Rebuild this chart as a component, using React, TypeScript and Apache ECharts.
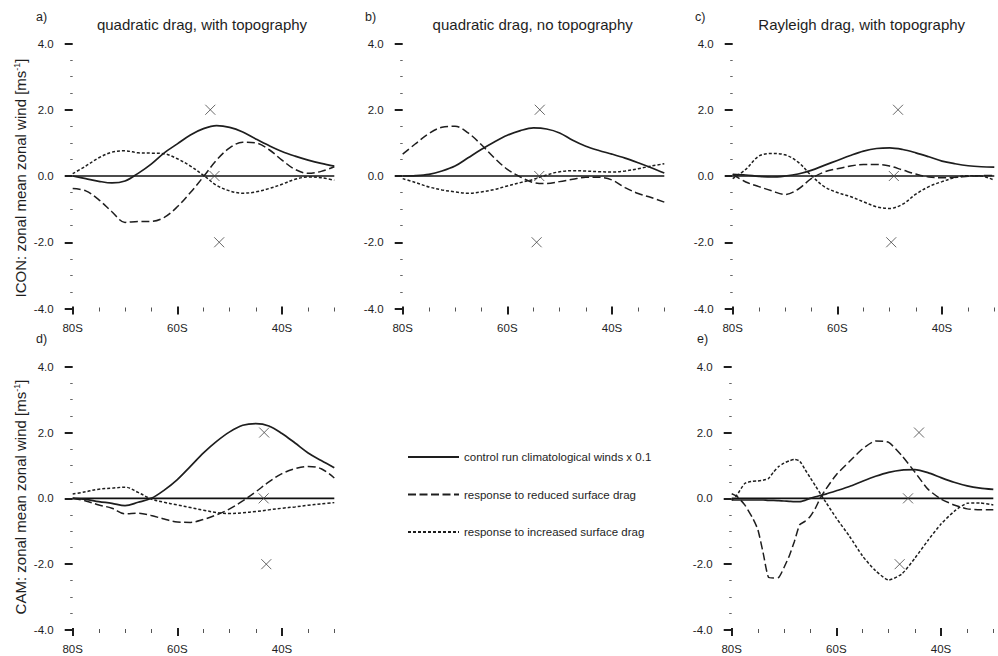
import React, { useEffect, useRef } from 'react';
import * as echarts from 'echarts';

// ---------------- data ----------------
const X_MIN = -80;
const X_MAX = -30;
const Y_MIN = -4;
const Y_MAX = 4;

const LAT = [-80, -77.5, -75, -72.5, -70, -67.5, -65, -62.5, -60, -57.5, -55, -52.5, -50, -47.5, -45, -42.5, -40, -37.5, -35, -32.5, -30];
const LAT_E = [-80, -79, -77.5, -76, -75, -74, -73, -72, -71, -70, -69, -68, -67, -66, -65, -64, -63, -62, -60, -57.5, -55, -52.5, -50, -47.5, -45, -42.5, -40, -37.5, -35, -32.5, -30];

// a) ICON quadratic drag, with topography
const A_CONTROL = [0, -0.08, -0.16, -0.21, -0.15, 0.08, 0.36, 0.7, 0.97, 1.24, 1.43, 1.52, 1.47, 1.33, 1.12, 0.92, 0.74, 0.6, 0.48, 0.38, 0.3];
const A_REDUCED = [-0.38, -0.45, -0.72, -1.08, -1.4, -1.37, -1.37, -1.25, -0.93, -0.5, -0.02, 0.48, 0.85, 1.02, 1.0, 0.8, 0.48, 0.2, 0.08, 0.14, 0.28];
const A_INCREASED = [0.07, 0.3, 0.55, 0.72, 0.76, 0.7, 0.69, 0.67, 0.52, 0.3, 0.02, -0.28, -0.45, -0.52, -0.48, -0.38, -0.25, -0.1, -0.03, -0.05, -0.13];

// b) ICON quadratic drag, no topography
const B_CONTROL = [0, 0.01, 0.05, 0.15, 0.3, 0.55, 0.8, 1.03, 1.23, 1.37, 1.45, 1.42, 1.3, 1.08, 0.9, 0.77, 0.66, 0.54, 0.4, 0.25, 0.09];
const B_REDUCED = [0.66, 0.98, 1.28, 1.47, 1.5, 1.3, 0.95, 0.55, 0.2, -0.03, -0.2, -0.23, -0.17, -0.1, -0.04, -0.04, -0.12, -0.35, -0.53, -0.65, -0.79];
const B_INCREASED = [-0.08, -0.2, -0.33, -0.42, -0.48, -0.52, -0.48, -0.41, -0.3, -0.2, -0.1, 0.03, 0.13, 0.16, 0.15, 0.13, 0.12, 0.15, 0.22, 0.3, 0.37];

// c) ICON Rayleigh drag, with topography
const C_CONTROL = [0.05, 0.03, -0.01, -0.03, 0, 0.06, 0.17, 0.32, 0.47, 0.62, 0.75, 0.83, 0.85, 0.8, 0.7, 0.58, 0.45, 0.37, 0.31, 0.28, 0.27];
const C_REDUCED = [0.05, -0.18, -0.32, -0.45, -0.56, -0.4, -0.08, 0.12, 0.22, 0.3, 0.35, 0.35, 0.3, 0.18, 0.06, -0.03, -0.05, -0.04, -0.01, 0.01, 0.02];
const C_INCREASED = [-0.08, 0.2, 0.6, 0.68, 0.64, 0.42, 0.02, -0.32, -0.5, -0.62, -0.78, -0.93, -0.98, -0.85, -0.55, -0.32, -0.17, -0.05, 0.01, 0, -0.13];

// d) CAM quadratic drag, with topography
const D_CONTROL = [0, -0.03, -0.1, -0.15, -0.22, -0.12, 0, 0.25, 0.57, 0.97, 1.38, 1.73, 2.02, 2.22, 2.27, 2.2, 1.97, 1.68, 1.38, 1.15, 0.93];
const D_REDUCED = [0, -0.08, -0.2, -0.3, -0.47, -0.45, -0.52, -0.63, -0.72, -0.73, -0.64, -0.5, -0.32, -0.08, 0.2, 0.5, 0.75, 0.9, 0.97, 0.9, 0.62];
const D_INCREASED = [0.13, 0.2, 0.28, 0.31, 0.34, 0.18, -0.02, -0.12, -0.2, -0.28, -0.36, -0.43, -0.46, -0.44, -0.4, -0.35, -0.3, -0.26, -0.21, -0.17, -0.13];

// e) CAM Rayleigh drag, with topography (on LAT_E)
const E_CONTROL = [-0.05, -0.05, -0.05, -0.05, -0.05, -0.05, -0.06, -0.06, -0.07, -0.08, -0.09, -0.1, -0.1, -0.06, 0, 0.05, 0.09, 0.13, 0.23, 0.36, 0.52, 0.67, 0.79, 0.86, 0.87, 0.78, 0.63, 0.49, 0.38, 0.31, 0.27];
const E_REDUCED = [0.14, 0.06, -0.2, -0.6, -0.95, -1.65, -2.39, -2.42, -2.4, -2.1, -1.75, -1.3, -0.8, -0.7, -0.55, -0.3, 0.03, 0.28, 0.72, 1.12, 1.5, 1.74, 1.7, 1.3, 0.8, 0.28, -0.02, -0.2, -0.32, -0.35, -0.35];
const E_INCREASED = [-0.06, 0.1, 0.45, 0.52, 0.53, 0.55, 0.6, 0.8, 0.97, 1.07, 1.14, 1.18, 1.13, 0.88, 0.63, 0.38, 0.13, -0.12, -0.6, -1.15, -1.75, -2.2, -2.48, -2.3, -1.82, -1.28, -0.78, -0.4, -0.15, -0.14, -0.2];

// cross markers (latitude of each cross at values MARK_VALUES)
const MARK_VALUES = [2, 0, -2];
const A_MARK_LAT = [-53.7, -52.9, -52.0];
const B_MARK_LAT = [-53.8, -53.9, -54.4];
const C_MARK_LAT = [-48.4, -49.2, -49.7];
const D_MARK_LAT = [-43.4, -43.5, -43.0];
const E_MARK_LAT = [-44.2, -46.3, -47.9];

const X_LABEL_TICKS = [-80, -60, -40];
const X_MINOR_TICKS = [-75, -70, -65, -55, -50, -45, -35, -30];

const SERIES_NAMES = [
  'control run climatological winds x 0.1',
  'response to reduced surface drag',
  'response to increased surface drag',
];
const PANEL_LETTERS = ['a)', 'b)', 'c)', 'd)', 'e)'];
const PANEL_TITLES = ['quadratic drag, with topography', 'quadratic drag, no topography', 'Rayleigh drag, with topography'];
const ROW_LABELS = ['ICON: zonal mean zonal wind [ms{sup|-1}]', 'CAM: zonal mean zonal wind [ms{sup|-1}]'];

const PANELS = [
  { lat: LAT, lines: [A_CONTROL, A_REDUCED, A_INCREASED], marks: A_MARK_LAT, smooth: 0.35 },
  { lat: LAT, lines: [B_CONTROL, B_REDUCED, B_INCREASED], marks: B_MARK_LAT, smooth: 0.35 },
  { lat: LAT, lines: [C_CONTROL, C_REDUCED, C_INCREASED], marks: C_MARK_LAT, smooth: 0.35 },
  { lat: LAT, lines: [D_CONTROL, D_REDUCED, D_INCREASED], marks: D_MARK_LAT, smooth: 0.35 },
  { lat: LAT_E, lines: [E_CONTROL, E_REDUCED, E_INCREASED], marks: E_MARK_LAT, smooth: 0.2 },
];

// ---------------- layout ----------------
const FONT = '"Liberation Sans", Arial, Helvetica, sans-serif';
const INK = '#1e1e1e';
const GRIDS = [
  { left: 72.7, top: 43.5, width: 261.6, height: 265 },
  { left: 402.7, top: 43.5, width: 261.6, height: 265 },
  { left: 732.7, top: 43.5, width: 261.6, height: 265 },
  { left: 72.7, top: 366.7, width: 261.6, height: 263.3 },
  { left: 731.7, top: 366.7, width: 261.6, height: 263.3 },
];
const LETTER_POS = [[36, 17], [365, 17], [695, 17], [36, 339], [697, 339]];
const TITLE_POS = [[202, 24], [532.7, 24], [861.7, 24]];
const ROW_LABEL_POS = [[20, 178], [20, 497]];
const LINE_STYLES: any[] = [
  { type: 'solid', width: 1.7 },
  { type: [8, 3.5], width: 1.5 },
  { type: [3, 2], width: 1.5 },
];

export default function App() {
  const ref = useRef<HTMLDivElement>(null);
  useEffect(() => {
    if (!ref.current) return;
    const chart = echarts.init(ref.current, null, { renderer: 'svg' });

    const grid: any[] = [];
    const xAxis: any[] = [];
    const yAxis: any[] = [];
    const series: any[] = [];

    PANELS.forEach((p, i) => {
      const g = GRIDS[i];
      grid.push({ ...g, containLabel: false });
      // bottom axis: minor ticks + labels
      xAxis.push({
        gridIndex: i,
        type: 'value',
        min: X_MIN,
        max: X_MAX,
        position: 'bottom',
        offset: -1,
        axisLine: { show: false, onZero: false },
        splitLine: { show: false },
        axisTick: { show: true, customValues: X_MINOR_TICKS, length: 4, lineStyle: { width: 1, color: '#555' } },
        axisLabel: {
          customValues: X_LABEL_TICKS,
          formatter: (v: number) => Math.abs(v) + 'S',
          margin: 14,
          fontSize: 11.5,
          color: INK,
          fontFamily: FONT,
        },
      });
      // second axis (moved down onto the bottom edge): major ticks
      xAxis.push({
        gridIndex: i,
        type: 'value',
        min: X_MIN,
        max: X_MAX,
        position: 'top',
        offset: -(g.height - 2),
        axisLine: { show: false, onZero: false },
        splitLine: { show: false },
        axisTick: { show: true, inside: true, customValues: X_LABEL_TICKS, length: 8, lineStyle: { width: 2, color: INK } },
        axisLabel: { show: false },
      });
      yAxis.push({
        gridIndex: i,
        type: 'value',
        min: Y_MIN,
        max: Y_MAX,
        interval: 2,
        axisLine: { show: false, onZero: false },
        splitLine: { show: false },
        axisTick: { show: true, length: 8, lineStyle: { width: 2, color: INK } },
        minorTick: { show: true, splitNumber: 4, length: 2.5, lineStyle: { width: 1, color: '#666' } },
        axisLabel: {
          formatter: (v: number) => v.toFixed(1),
          margin: 19,
          fontSize: 11.5,
          color: INK,
          fontFamily: FONT,
        },
      });

      series.push({
        type: 'line',
        xAxisIndex: 2 * i,
        yAxisIndex: i,
        data: [[X_MIN, 0], [X_MAX, 0]],
        symbol: 'none',
        silent: true,
        lineStyle: { color: '#111', width: 1.6 },
        z: 1,
      });

      p.lines.forEach((vals, k) => {
        series.push({
          name: SERIES_NAMES[k],
          type: 'line',
          xAxisIndex: 2 * i,
          yAxisIndex: i,
          data: p.lat.map((x, j) => [x, vals[j]]),
          symbol: 'none',
          showSymbol: false,
          smooth: p.smooth,
          color: INK,
          lineStyle: { color: INK, ...LINE_STYLES[k] },
          z: 3,
        });
      });

      series.push({
        type: 'scatter',
        xAxisIndex: 2 * i,
        yAxisIndex: i,
        data: p.marks.map((x, j) => [x, MARK_VALUES[j]]),
        symbol: 'path://M0 0L10 10M10 0L0 10',
        symbolSize: 10,
        silent: true,
        itemStyle: { color: 'rgba(0,0,0,0)', borderColor: '#444', borderWidth: 1 },
        z: 4,
      });
    });

    const graphic: any[] = [];
    PANEL_LETTERS.forEach((t, i) => {
      graphic.push({
        type: 'text',
        x: LETTER_POS[i][0],
        y: LETTER_POS[i][1],
        style: { text: t, fontSize: 12.5, fill: INK, fontFamily: FONT, align: 'left', verticalAlign: 'middle' },
      });
    });
    TITLE_POS.forEach((pos, i) => {
      graphic.push({
        type: 'text',
        x: pos[0],
        y: pos[1],
        style: { text: PANEL_TITLES[i], fontSize: 15, fill: INK, fontFamily: FONT, align: 'center', verticalAlign: 'middle' },
      });
    });
    ROW_LABELS.forEach((t, i) => {
      graphic.push({
        type: 'text',
        x: ROW_LABEL_POS[i][0],
        y: ROW_LABEL_POS[i][1],
        rotation: Math.PI / 2,
        style: {
          text: t,
          fontSize: 15,
          fill: INK,
          fontFamily: FONT,
          align: 'center',
          verticalAlign: 'middle',
          rich: {
            sup: { fontSize: 9, fill: INK, fontFamily: FONT, verticalAlign: 'top', lineHeight: 9, padding: [0, 0, 6, 0] },
          },
        },
      });
    });

    chart.setOption({
      animation: false,
      backgroundColor: '#fff',
      textStyle: { fontFamily: FONT },
      grid,
      xAxis,
      yAxis,
      series,
      graphic,
      legend: {
        data: SERIES_NAMES,
        orient: 'vertical',
        left: 407,
        top: 451,
        itemWidth: 51,
        itemHeight: 14,
        itemGap: 25.5,
        padding: 0,
        selectedMode: false,
        itemStyle: { color: 'rgba(0,0,0,0)', borderColor: 'rgba(0,0,0,0)', borderWidth: 0, opacity: 0 },
        textStyle: { fontSize: 11.5, color: INK, fontFamily: FONT },
      },
    });
    return () => chart.dispose();
  }, []);
  return <div ref={ref} style={{ position: 'fixed', left: 0, top: 0, width: 998, height: 656 }} />;
}
